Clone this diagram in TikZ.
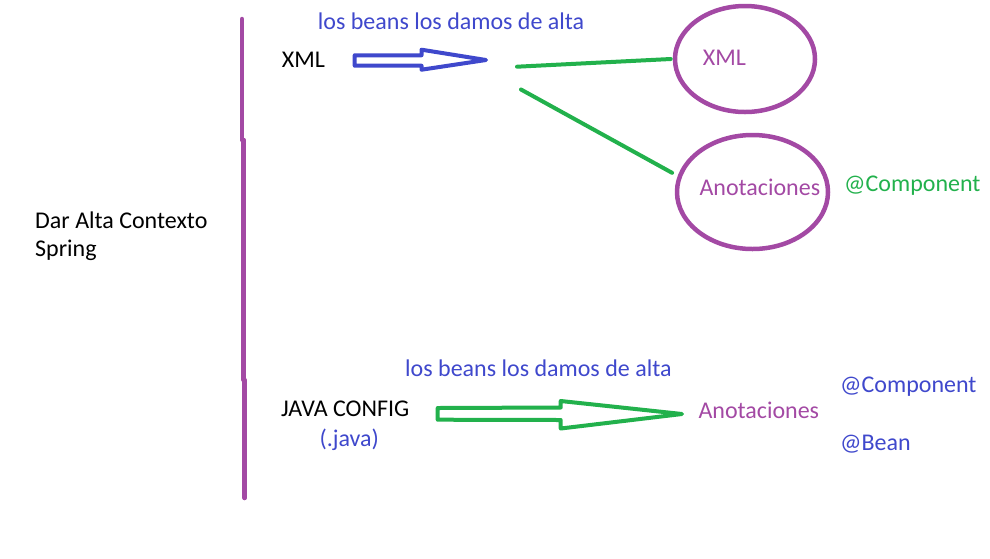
\documentclass[tikz,border=0pt]{standalone}
\usepackage{fontspec}
\setmainfont{Carlito}
\usetikzlibrary{shapes.geometric}
\definecolor{ppurple}{HTML}{A349A4}
\definecolor{pgreen}{HTML}{22B14C}
\definecolor{pblue}{HTML}{3F48CC}
\begin{document}
\begin{tikzpicture}[x=1pt,y=-1pt,
  txt/.style={anchor=base west, inner sep=0pt, font=\fontsize{24}{28.5}\selectfont},
  ring/.style={draw=ppurple, line width=4.5pt, ellipse, inner sep=0pt},
  conn/.style={draw=pgreen, line width=4pt, line cap=round},
  hollow/.style={line width=4pt, line join=round, fill=none},
  divider/.style={draw=ppurple, line width=4.5pt, line cap=round}]
\useasboundingbox (0,0) rectangle (990,558);

% divider
\draw[divider] (242,19) -- (242,140);
\draw[divider] (243.6,140) -- (243.6,380);
\draw[divider] (244.6,380) -- (244.6,498);

% left label (base anchor = last line)
\node[txt, align=left] (ctx) at (35,256.8) {Dar Alta Contexto\\Spring};

% top row
\node[txt, text=pblue] (beans1) at (317.7,29.3) {los beans los damos de alta};
\node[txt] (xml) at (281.7,67.7) {XML};
\draw[hollow, draw=pblue] (354.7,55.3) -- (421.5,55.3) -- (421.5,49.7) -- (486,60)
  -- (421.5,69.7) -- (421.5,65.7) -- (354.7,65.7) -- cycle;
\coordinate (fork1) at (517,66.7);
\coordinate (fork2) at (521,89.5);

\node[ring, minimum width=140, minimum height=106] (xmlE) at (745,59) {};
\node[txt, text=ppurple] (xmlT) at (702.7,65) {XML};
\node[ring, minimum width=151, minimum height=114] (anoE) at (752.5,192) {};
\node[txt, text=ppurple] (anoT) at (699.3,195) {Anotaciones};
\node[txt, text=pgreen] (comp1) at (844,191.7) {@Component};

\draw[conn] (fork1) -- ([xshift=-2pt]xmlE.west);
\draw[conn] (fork2) -- ([xshift=-6pt,yshift=2pt]anoE.167);

% bottom row
\node[txt, text=pblue] (beans2) at (405,376.7) {los beans los damos de alta};
\node[txt] (java) at (281,416) {JAVA CONFIG};
\node[txt, text=pblue] (javaExt) at (319.3,446.7) {(.java)};
\draw[hollow, draw=pgreen] (437.7,408) -- (560.7,407.5) -- (560.7,401) -- (682,414)
  -- (560.7,428.5) -- (560.7,420) -- (437.7,419.7) -- cycle;
\node[txt, text=ppurple] (anoB) at (698.3,418.3) {Anotaciones};
\node[txt, text=pblue] (comp2) at (840,392.7) {@Component};
\node[txt, text=pblue] (bean) at (840,450) {@Bean};
\end{tikzpicture}
\end{document}
